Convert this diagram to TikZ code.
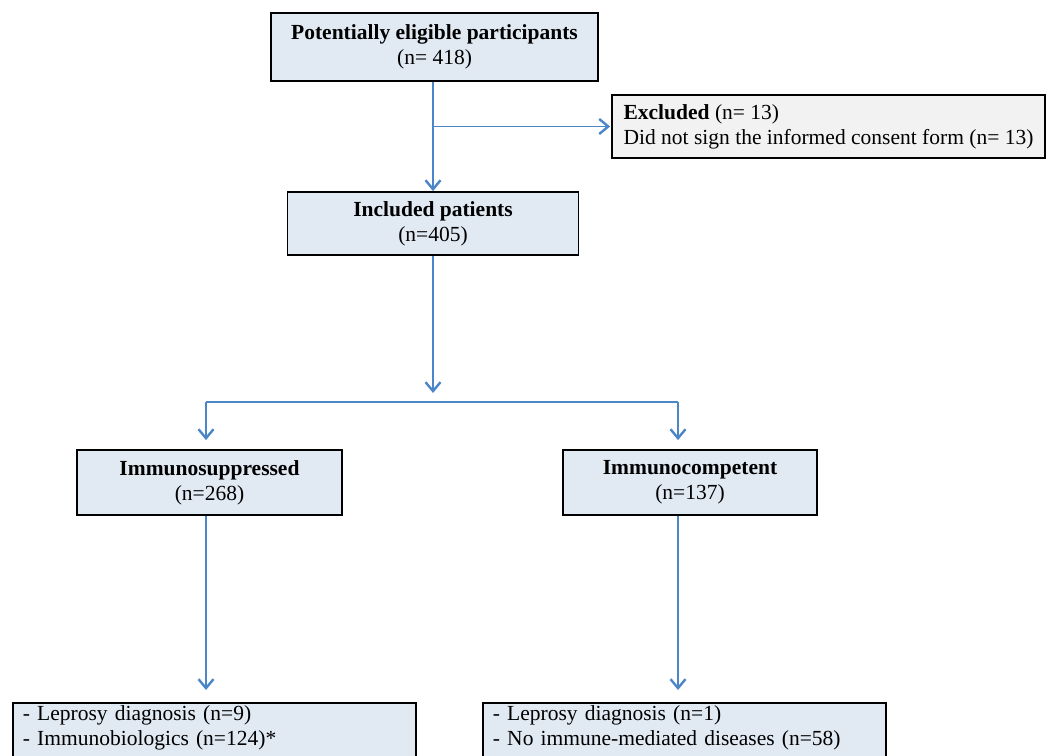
\documentclass[tikz,border=0pt]{standalone}
\usepackage{fontspec}
\setmainfont{Liberation Serif}
\usepackage{tikz}
\usetikzlibrary{arrows.meta,positioning,calc}
\definecolor{BoxBlue}{HTML}{E1E9F3}
\definecolor{BoxGray}{HTML}{F2F2F2}
\definecolor{FlowBlue}{HTML}{4A86C8}

\begin{document}
\begin{tikzpicture}[x=1pt,y=-1pt,
  box/.style={draw=black,line width=1.8pt,fill=BoxBlue,align=center,inner sep=0pt,
              font=\fontsize{21.5}{25}\selectfont},
  listbox/.style={box,anchor=north west,align=left,text width=383pt,inner xsep=10pt,
              inner ysep=3pt,text depth=40pt},
  link/.style={draw=FlowBlue,line width=1.7pt},
  flow/.style={link,-{Straight Barb[length=9pt,width=15pt,line width=2.4pt]}}]
\useasboundingbox (0,0) rectangle (1051,755);
\clip (0,0) rectangle (1051,755);

\node[box,minimum width=327pt,minimum height=68pt] (pot) at (434.5,47)
{\textbf{Potentially eligible participants}\\(n= 418)};
\node[box,fill=BoxGray,align=left,minimum width=433pt,minimum height=63pt] (excl) at (828.5,126.5)
{\textbf{Excluded} (n= 13)\\Did not sign the informed consent form (n= 13)};
\node[box,minimum width=291pt,minimum height=63pt] (incl) at (433,223.5)
{\textbf{Included patients}\\(n=405)};
\node[box,minimum width=265pt,minimum height=65pt] (sup) at (209.5,482.5)
{\textbf{Immunosuppressed}\\(n=268)};
\node[box,minimum width=254pt,minimum height=65pt] (comp) at (690,482.5)
{\textbf{Immunocompetent}\\(n=137)};
\node[listbox] (lsub) at (12,702)
{- Leprosy diagnosis (n=9)\\- Immunobiologics (n=124)*};
\node[listbox] (rsub) at (482,702)
{- Leprosy diagnosis (n=1)\\- No immune-mediated diseases (n=58)};

\coordinate (split) at (433,402);
\coordinate (splitL) at (206,402);
\coordinate (splitR) at (678,402);

\draw[flow] (pot.south -| incl.north) -- (incl.north);
\draw[flow,shorten >=1pt] (incl.north |- excl.west) -- (excl.west);
\draw[flow,shorten >=9pt] (incl.south) -- (split);
\draw[link] (splitL) -- (splitR);
\draw[flow,shorten >=9pt] (splitL) -- (splitL |- sup.north);
\draw[flow,shorten >=9pt] (splitR) -- (splitR |- comp.north);
\draw[flow,shorten >=12pt] (splitL |- sup.south) -- (splitL |- lsub.north);
\draw[flow,shorten >=12pt] (splitR |- comp.south) -- (splitR |- rsub.north);
\end{tikzpicture}
\end{document}
